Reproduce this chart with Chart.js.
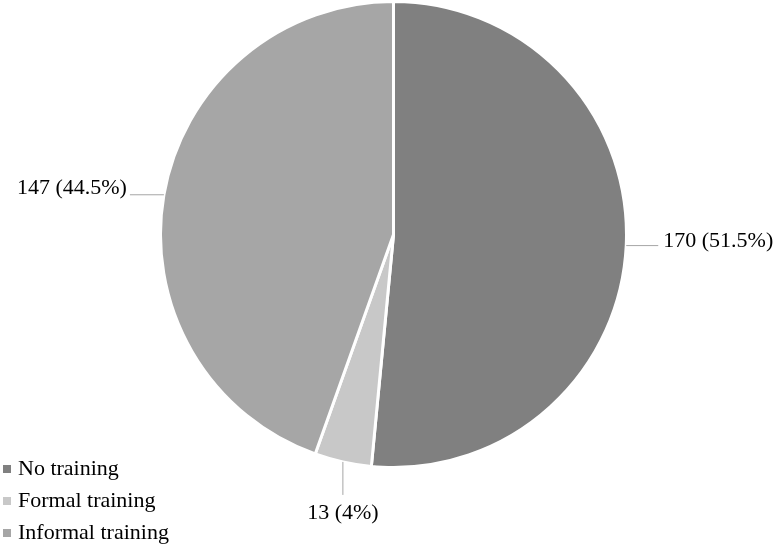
<!DOCTYPE html>
<html>
<head>
<meta charset="utf-8">
<script src="https://cdn.jsdelivr.net/npm/chart.js@4"></script>
<style>
  html, body { margin: 0; padding: 0; background: #fff; }
  #wrap { width: 776px; height: 547px; }
</style>
</head>
<body>
<div id="wrap"><canvas id="myChart" width="776" height="547"></canvas></div>
<script>
const categories = ['No training', 'Formal training', 'Informal training'];
const counts = [170, 13, 147];
const percents = ['51.5%', '4%', '44.5%'];
const colors = ['#808080', '#c8c8c8', '#a6a6a6'];

const FONT = '22px "Liberation Serif", "Times New Roman", serif';

// labels with leader lines around the pie
const sliceLabels = {
  id: 'sliceLabels',
  afterDatasetsDraw(chart) {
    const ctx = chart.ctx;
    const arcs = chart.getDatasetMeta(0).data;
    ctx.save();
    ctx.font = FONT;
    ctx.fillStyle = '#000';
    ctx.strokeStyle = '#a6a6a6';
    ctx.lineWidth = 1;
    arcs.forEach((arc, i) => {
      const mid = (arc.startAngle + arc.endAngle) / 2;
      const r = arc.outerRadius;
      const px = arc.x + Math.cos(mid) * r;
      const py = arc.y + Math.sin(mid) * r;
      const text = counts[i] + ' (' + percents[i] + ')';
      ctx.beginPath();
      if (Math.abs(Math.sin(mid)) > 0.9) {
        ctx.moveTo(px, py);
        ctx.lineTo(px, py + 33);
        ctx.stroke();
        ctx.textAlign = 'center';
        ctx.textBaseline = 'middle';
        ctx.fillText(text, px, py + 51);
      } else if (Math.cos(mid) > 0) {
        ctx.moveTo(px, py);
        ctx.lineTo(px + 32, py);
        ctx.stroke();
        ctx.textAlign = 'left';
        ctx.textBaseline = 'middle';
        ctx.fillText(text, px + 37, py - 4);
      } else {
        ctx.moveTo(px, py);
        ctx.lineTo(px - 34, py);
        ctx.stroke();
        ctx.textAlign = 'right';
        ctx.textBaseline = 'middle';
        ctx.fillText(text, px - 37, py - 7);
      }
    });
    ctx.restore();
  }
};

// vertical legend in the bottom-left corner
const cornerLegend = {
  id: 'cornerLegend',
  afterDraw(chart) {
    const ctx = chart.ctx;
    ctx.save();
    ctx.font = FONT;
    ctx.textAlign = 'left';
    ctx.textBaseline = 'middle';
    categories.forEach((name, i) => {
      const y = 469 + i * 32;
      ctx.fillStyle = colors[i];
      ctx.fillRect(3, y - 4, 8, 8);
      ctx.fillStyle = '#000';
      ctx.fillText(name, 18, y);
    });
    ctx.restore();
  }
};

new Chart(document.getElementById('myChart'), {
  type: 'pie',
  data: {
    labels: categories,
    datasets: [{
      data: counts,
      backgroundColor: colors,
      borderColor: '#ffffff',
      borderWidth: 3
    }]
  },
  options: {
    responsive: false,
    animation: false,
    layout: { padding: { top: 0, bottom: 78, left: 159, right: 148 } },
    plugins: {
      legend: { display: false },
      tooltip: { enabled: false }
    }
  },
  plugins: [sliceLabels, cornerLegend]
});
</script>
</body>
</html>
